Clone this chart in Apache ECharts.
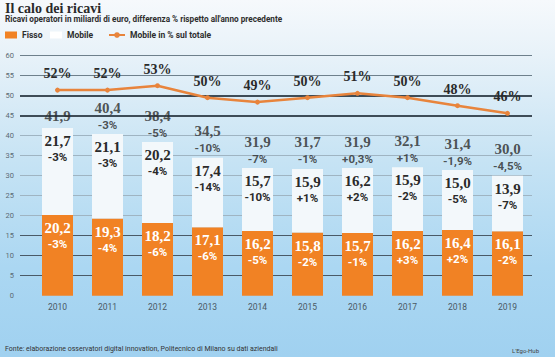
<!DOCTYPE html>
<html><head><meta charset="utf-8">
<script src="https://cdn.jsdelivr.net/npm/echarts@6/dist/echarts.min.js"></script>
<style>html,body{margin:0;padding:0;overflow:hidden;width:555px;height:357px;}
#c{display:block;width:555px;height:357px;background:linear-gradient(180deg,#f6f9fc 0%,#e8f2f9 15%,#c6e3f4 45%,#abd7f2 75%,#a0d1f0 100%);}</style>
</head><body><div id="c"></div>
<script>
const years = ['2010','2011','2012','2013','2014','2015','2016','2017','2018','2019'];
const fisso = [20.2,19.3,18.2,17.1,16.2,15.8,15.7,16.2,16.4,16.1];
const mobile = [21.7,21.1,20.2,17.4,15.7,15.9,16.2,15.9,15.0,13.9];
const totals = [41.9,40.4,38.4,34.5,31.9,31.7,31.9,32.1,31.4,30.0];
const fissoChg = ['-3%','-4%','-6%','-6%','-5%','-2%','-1%','+3%','+2%','-2%'];
const mobileChg = ['-3%','-3%','-4%','-14%','-10%','+1%','+2%','-2%','-5%','-7%'];
const totalChg = ['','-3%','-5%','-10%','-7%','-1%','+0,3%','+1%','-1,9%','-4,5%'];
const shareValues = [51.4,51.4,52.5,49.5,48.4,49.5,50.6,49.5,47.5,45.6];
const shareLabels = ['52%','52%','53%','50%','49%','50%','51%','50%','48%','46%'];
const yTicks = [0,60,5];

const SERIF = "'Liberation Serif','DejaVu Serif',serif";
const NARROW = "'Liberation Sans Narrow','Roboto','Liberation Sans',sans-serif";
const SANS = "Roboto,'Liberation Sans',sans-serif";
const fmt = v => v.toFixed(1).replace('.', ',');

const dark = '#4a5a67', light = '#9fb4c2', mid = '#6e808c', T = 'rgba(0,0,0,0)';
// ticks 0,5,...,60
const thinColors = [T, dark, dark, dark, light, light, light, light, light, T, T, mid, mid];
const thickColors = [T, T, T, T, T, T, T, T, T, '#3e4c57', '#3e4c57', T, T];

const chart = echarts.init(document.getElementById('c'), null, {renderer:'svg'});
const rich = (valColor) => ({
  v: {fontFamily: SERIF, fontWeight: 'bold', fontSize: 15, color: valColor, lineHeight: 18},
  p: {fontFamily: SANS, fontWeight: 'bold', fontSize: 11.5, color: valColor, lineHeight: 14}
});

const option = {
  animation: false,
  backgroundColor: 'transparent',
  title: [
    {left:5, top:1, padding:0, text:'Il calo dei ricavi', textStyle:{fontFamily:SERIF, fontWeight:'bold', fontSize:14, color:'#2a2a2a'}},
    {left:5, top:15, padding:0, text:"Ricavi operatori in miliardi di euro, differenza % rispetto all'anno precedente",
     textStyle:{fontFamily:NARROW, fontWeight:'bold', fontSize:8.2, color:'#2e2e2e'}},
    {left:5, top:345, padding:0, text:'Fonte: elaborazione osservatori digital innovation, Politecnico di Milano su dati aziendali',
     textStyle:{fontFamily:NARROW, fontWeight:'normal', fontSize:7, color:'#333'}},
    {right:16, top:347, padding:0, text:"L'Ego-Hub", textStyle:{fontFamily:NARROW, fontWeight:'normal', fontSize:6, color:'#444'}}
  ],
  legend: [
    {left:5, top:30.5, padding:0, data:['Fisso'], icon:'rect', itemWidth:12, itemHeight:7, selectedMode:false,
     textStyle:{fontFamily:NARROW, fontWeight:'bold', fontSize:8.5, color:'#2e2e2e'}},
    {left:50, top:30.5, padding:0, data:['Mobile'], icon:'rect', itemWidth:12, itemHeight:7, selectedMode:false,
     itemStyle:{color:'#ffffff'},
     textStyle:{fontFamily:NARROW, fontWeight:'bold', fontSize:8.5, color:'#2e2e2e'}},
    {left:108, top:30.5, padding:0, data:['Mobile in % sul totale'], itemWidth:16, itemHeight:7, selectedMode:false,
     textStyle:{fontFamily:NARROW, fontWeight:'bold', fontSize:8.5, color:'#2e2e2e'}}
  ],
  grid: [
    {left:20, right:23, top:55.7, bottom:61.3},
    {left:32.5, right:22.5, top:55.7, bottom:61.3}
  ],
  xAxis: [
    {gridIndex:0, type:'value', min:0, max:1, show:false},
    {gridIndex:1, type:'category', data:years, axisLine:{show:false}, axisTick:{show:false},
     axisLabel:{color:'#4a5863', fontSize:8.5, fontFamily:SANS, margin:7}}
  ],
  yAxis: [
    {gridIndex:0, type:'value', min:yTicks[0], max:yTicks[1], interval:yTicks[2], axisLine:{show:false}, axisTick:{show:false},
     axisLabel:{color:'#5b6a74', fontSize:7.5, margin:6, fontFamily:SANS},
     splitLine:{lineStyle:{color:thinColors, width:1}}},
    {gridIndex:0, type:'value', position:'right', min:yTicks[0], max:yTicks[1], interval:yTicks[2], axisLine:{show:false}, axisTick:{show:false},
     axisLabel:{show:false}, splitLine:{lineStyle:{color:thickColors, width:2}}},
    {gridIndex:1, type:'value', min:yTicks[0], max:yTicks[1], interval:yTicks[2], show:false}
  ],
  series: [
    {name:'Fisso', type:'bar', xAxisIndex:1, yAxisIndex:2, stack:'r', barWidth:31, data:fisso,
     itemStyle:{color:'#f18224'},
     label:{show:true, position:'insideTop', distance:4, rich:rich('#ffffff'),
       formatter: p => '{v|' + fmt(p.value) + '}\n{p|' + fissoChg[p.dataIndex] + '}'}},
    {name:'Mobile', type:'bar', xAxisIndex:1, yAxisIndex:2, stack:'r', barWidth:31, data:mobile,
     itemStyle:{color:'#f3f8fb'},
     label:{show:true, position:'insideTop', distance:4, rich:rich('#2a2a2a'),
       formatter: p => '{v|' + fmt(p.value) + '}\n{p|' + mobileChg[p.dataIndex] + '}'}},
    {name:'Totale', type:'scatter', xAxisIndex:1, yAxisIndex:2, data:totals, symbolSize:1, silent:true,
     itemStyle:{color:T},
     label:{show:true, position:'top', distance:2,
       rich:{v:{fontFamily:SERIF, fontWeight:'bold', fontSize:15, color:'#2a2a2a', lineHeight:20},
             p:{fontFamily:SANS, fontWeight:'bold', fontSize:11.5, color:'#2a2a2a', lineHeight:14}},
       formatter: p => totalChg[p.dataIndex] ? '{v|' + fmt(p.value) + '}\n{p|' + totalChg[p.dataIndex] + '}' : '{v|' + fmt(p.value) + '}'}},
    {name:'Mobile in % sul totale', type:'line', xAxisIndex:1, yAxisIndex:2, data:shareValues,
     symbol:'circle', symbolSize:5, itemStyle:{color:'#e8843c'}, lineStyle:{color:'#e8843c', width:2.5},
     label:{show:true, position:'top', distance:7, fontFamily:SERIF, fontWeight:'bold', fontSize:14, color:'#2a2a2a',
       formatter: p => shareLabels[p.dataIndex]}}
  ]
};
chart.setOption(option);
</script></body></html>
